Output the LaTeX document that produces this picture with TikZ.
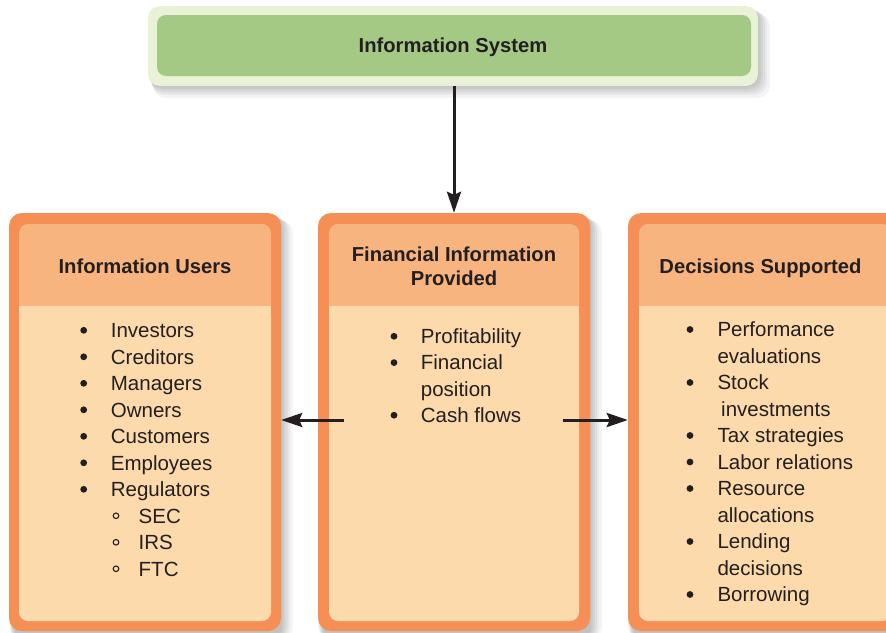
\documentclass[tikz,border=0pt]{standalone}
\usepackage{fontspec}
\setmainfont{Liberation Sans}
\usetikzlibrary{arrows.meta}
\definecolor{txt}{HTML}{231F20}
\definecolor{gOuter}{HTML}{E9F1D6}
\definecolor{gInner}{HTML}{A4C985}
\definecolor{oBorder}{HTML}{F58F55}
\definecolor{oHead}{HTML}{F8B47F}
\definecolor{oBody}{HTML}{FDDAAB}
\begin{document}
\begin{tikzpicture}[x=1pt,y=-1pt,
  outerbox/.style={fill=oBorder, rounded corners=13pt, minimum width=272pt, minimum height=418pt, inner sep=0pt},
  shadowc/.style={fill=black, opacity=0.045, rounded corners=13pt},
  headtxt/.style={font=\bfseries\fontsize{20.2}{23.3}\selectfont, text=txt, inner sep=0pt, anchor=base},
  itemtxt/.style={font=\fontsize{20.5}{26.5}\selectfont, text=txt, inner sep=0pt, anchor=base west},
  arr/.style={draw=txt, line width=3pt, -{Stealth[length=21pt,width=14pt,inset=3pt]}},
  dotb/.style={fill=txt},
  ringb/.style={draw=txt, line width=1.1pt}]
\useasboundingbox (0,0) rectangle (886,632);
\clip (0,0) rectangle (886,632);
\fill[white] (0,0) rectangle (886,632);

% shadows
\foreach \d in {1,3,5,7,9,12}{
  \fill[shadowc] (148+0.4*\d,6+0.6*\d) rectangle (758+\d,86+\d);
  \fill[shadowc] (9+0.4*\d,213+0.6*\d) rectangle (281+\d,640);
  \fill[shadowc] (318+0.4*\d,213+0.6*\d) rectangle (590+\d,640);
  \fill[shadowc] (628+0.4*\d,213+0.6*\d) rectangle (900+\d,640);
}

% top box
\node[fill=gOuter, rounded corners=12pt, minimum width=610pt, minimum height=80pt, inner sep=0pt] (sys) at (453,46) {};
\node[fill=gInner, rounded corners=9pt, minimum width=594pt, minimum height=61pt, inner sep=0pt] (sysIn) at (454,45.5) {};
\node[headtxt] (sysTxt) at (453,52.5) {Information System};

% three boxes
\node[outerbox] (users) at (145,422) {};
\node[outerbox] (fin) at (454,422) {};
\node[outerbox] (dec) at (764,422) {};

\foreach \xa/\xb in {19/271, 329/579, 639/891}{
  \fill[oHead, rounded corners=9pt] (\xa,224) rectangle (\xb,320);
  \fill[oBody] (\xa,306) rectangle (\xb,600);
  \fill[oBody, rounded corners=9pt] (\xa,306) rectangle (\xb,621);
}

% headers
\node[headtxt] (usersHead) at (145,273.3) {Information Users};
\node[headtxt] (finHeadA) at (454,261.7) {Financial Information};
\node[headtxt] (finHeadB) at (454,285) {Provided};
\node[headtxt] (decHead) at (760.5,273.3) {Decisions Supported};

% users list
\foreach \t [count=\i from 0] in {Investors,Creditors,Managers,Owners,Customers,Employees,Regulators}{
  \node[itemtxt] (u\i) at (110.7,337.5+26.5*\i) {\t};
  \fill[dotb] ([xshift=-27pt,yshift=7.2pt]u\i.base west) circle (3.4pt);
}
\foreach \t [count=\i from 0] in {SEC,IRS,FTC}{
  \node[itemtxt] (s\i) at (138.5,523+26.5*\i) {\t};
  \draw[ringb] ([xshift=-22.5pt,yshift=7.2pt]s\i.base west) circle (2.8pt);
}

% financial list
\node[itemtxt] (f0) at (420.7,343.5) {Profitability};
\node[itemtxt] (f1) at (420.7,369.8) {Financial};
\node[itemtxt] (f2) at (420.7,396.1) {position};
\node[itemtxt] (f3) at (420.7,422.4) {Cash flows};
\foreach \n in {f0,f1,f3}{
  \fill[dotb] ([xshift=-26.7pt,yshift=7.2pt]\n.base west) circle (3.4pt);
}

% decisions list
\foreach \t/\xx/\bb [count=\i from 0] in {Performance/717.3/1, evaluations/717.3/0, Stock/717.3/1, investments/721/0, Tax strategies/717.3/1, Labor relations/717.3/1, Resource/717.3/1, allocations/717.3/0, Lending/717.3/1, decisions/717.3/0, Borrowing/717.3/1}{
  \node[itemtxt] (d\i) at (\xx,336.7+26.5*\i) {\t};
  \ifnum\bb=1
    \fill[dotb] ([xshift=-27.3pt,yshift=7.2pt]d\i.base west) circle (3.4pt);
  \fi
}

% connectors
\draw[arr] (sys.south -| fin.north) -- (fin.north);
\coordinate (lstart) at (344,420);
\coordinate (rstart) at (563,420);
\draw[arr] (lstart) -- (lstart -| users.east);
\draw[arr] (rstart) -- (rstart -| dec.west);
\end{tikzpicture}
\end{document}
